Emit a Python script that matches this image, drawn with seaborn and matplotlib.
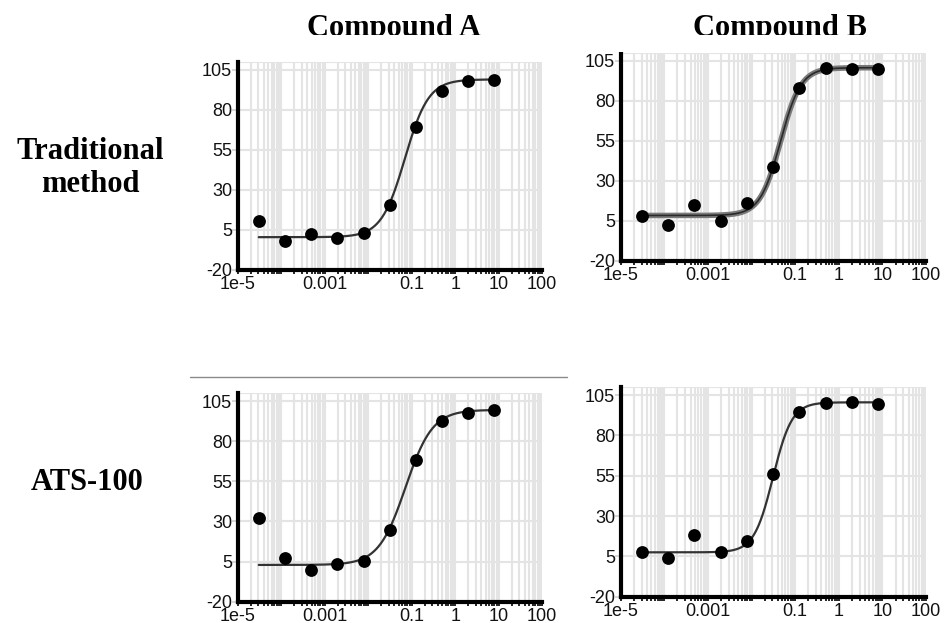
import numpy as np
import pandas as pd
import matplotlib
matplotlib.use("Agg")
import matplotlib.pyplot as plt
import matplotlib.ticker as mticker
from matplotlib.patches import Rectangle
import seaborn as sns

# concentrations (4-fold dilution series)
conc = [3.05e-5, 1.22e-4, 4.88e-4, 1.95e-3, 7.81e-3, 0.0313, 0.125, 0.5, 2.0, 8.0]

# responses per panel
trad_a = [10.8, -1.9, 2.3, -0.2, 3.3, 20.6, 69.6, 91.5, 98.1, 98.8]
trad_b = [8.1, 2.3, 15.0, 5.0, 16.3, 38.8, 88.3, 100.8, 99.8, 99.8]
ats_a = [32.1, 7.5, -0.2, 3.3, 5.4, 24.8, 68.1, 92.5, 97.7, 99.4]
ats_b = [7.9, 3.8, 18.1, 7.9, 14.5, 56.2, 94.2, 99.8, 100.9, 99.4]

# 4PL fit parameters: bottom, top, EC50, hill
fit_trad_a = [0.5, 99.0, 0.070, 1.6]
fit_trad_b = [8.3, 100.8, 0.046, 1.85]
fit_ats_a = [2.9, 99.5, 0.072, 1.4]
fit_ats_b = [7.5, 100.5, 0.031, 2.0]

col_titles = ["Compound A", "Compound B"]
row_titles = ["Traditional\nmethod", "ATS-100"]
yticks = [-20, 5, 30, 55, 80, 105]
xticks = [1e-5, 1e-4, 1e-3, 1e-2, 1e-1, 1, 10, 100]
xlabels = ["1e-5", "", "0.001", "", "0.1", "1", "10", "100"]

sns.set_theme(style="white")
plt.rcParams["font.family"] = ["Liberation Sans", "DejaVu Sans"]
plt.rcParams["axes.unicode_minus"] = False
plt.rcParams["text.color"] = "black"

W, H = 944, 623
fig = plt.figure(figsize=(W / 100, H / 100), dpi=100)


def hill(x, p):
    b, t, ec, h = p
    return b + (t - b) / (1 + (ec / x) ** h)


def panel(rect, y, fit, band=False):
    ax = fig.add_axes(rect)
    ax.set_xscale("log")
    ax.set_xlim(1e-5, 100)
    ax.set_ylim(-20, 110)
    ax.xaxis.set_major_locator(mticker.FixedLocator(xticks))
    ax.xaxis.set_major_formatter(mticker.FixedFormatter(xlabels))
    ax.xaxis.set_minor_locator(mticker.LogLocator(base=10, subs=np.arange(2, 10), numticks=20))
    ax.xaxis.set_minor_formatter(mticker.NullFormatter())
    ax.set_yticks(yticks)
    ax.yaxis.set_minor_locator(mticker.FixedLocator([110]))
    ax.grid(which="both", color="#e4e4e4", lw=1.5)
    ax.set_axisbelow(True)
    for s in ["top", "right"]:
        ax.spines[s].set_visible(False)
    for s in ["left", "bottom"]:
        ax.spines[s].set_color("black")
        ax.spines[s].set_linewidth(3)
    ax.tick_params(axis="x", which="both", bottom=True, color="black", length=3, width=1.2,
                   labelsize=13, pad=1.5, labelcolor="#111111")
    ax.tick_params(axis="y", which="major", left=True, color="#d0d0d0", length=4, width=1.2,
                   labelsize=13, pad=0, labelcolor="#111111")
    ax.tick_params(axis="y", which="minor", left=False)

    xc = np.logspace(np.log10(conc[0]), np.log10(conc[-1]), 300)
    curve = pd.DataFrame({"x": xc, "y": hill(xc, fit)})
    if band:
        sns.lineplot(data=curve, x="x", y="y", ax=ax, color="#7a7a7a", lw=4.0, zorder=3)
        sns.lineplot(data=curve, x="x", y="y", ax=ax, color="#2a2a2a", lw=1.2, zorder=4)
    else:
        sns.lineplot(data=curve, x="x", y="y", ax=ax, color="#333333", lw=1.6, zorder=3)
    pts = pd.DataFrame({"x": conc, "y": y})
    sns.scatterplot(data=pts, x="x", y="y", ax=ax, color="black", s=85,
                    edgecolor="black", linewidth=0, zorder=5)
    ax.set_xlabel("")
    ax.set_ylabel("")
    return ax


def fx(px):
    return px / W


def fy(py):
    return 1 - py / H


panel([fx(237.7), fy(270), fx(304.5), (270 - 61.8) / H], trad_a, fit_trad_a)
panel([fx(620.7), fy(260.7), fx(305.3), (260.7 - 53) / H], trad_b, fit_trad_b, band=True)
panel([fx(237.7), fy(601.7), fx(304.5), (601.7 - 393) / H], ats_a, fit_ats_a)
panel([fx(620.7), fy(596.7), fx(305.3), (596.7 - 387) / H], ats_b, fit_ats_b)

serif = ["Liberation Serif", "DejaVu Serif"]
for xpos, t in zip([394, 780], col_titles):
    fig.text(fx(xpos), fy(14), t, ha="center", va="top", fontsize=22, color="black",
             fontweight="bold", family=serif, zorder=3)
# titles are cut at their bottom in the original
fig.patches.append(Rectangle((fx(250), fy(52)), fx(700), (52 - 35) / H,
                             transform=fig.transFigure, facecolor="white",
                             edgecolor="none", zorder=4))

fig.text(fx(90), fy(192), row_titles[0], ha="center", va="baseline", fontsize=22,
         color="black", fontweight="bold", family=serif, linespacing=1.2)
fig.text(fx(87), fy(490), row_titles[1], ha="center", va="baseline", fontsize=22,
         color="black", fontweight="bold", family=serif)

# separator line above the lower-left panel
fig.add_artist(plt.Line2D([fx(190), fx(567)], [fy(377), fy(377)], color="#8a8a8a", lw=1))

fig.savefig("out.png", dpi=100)
